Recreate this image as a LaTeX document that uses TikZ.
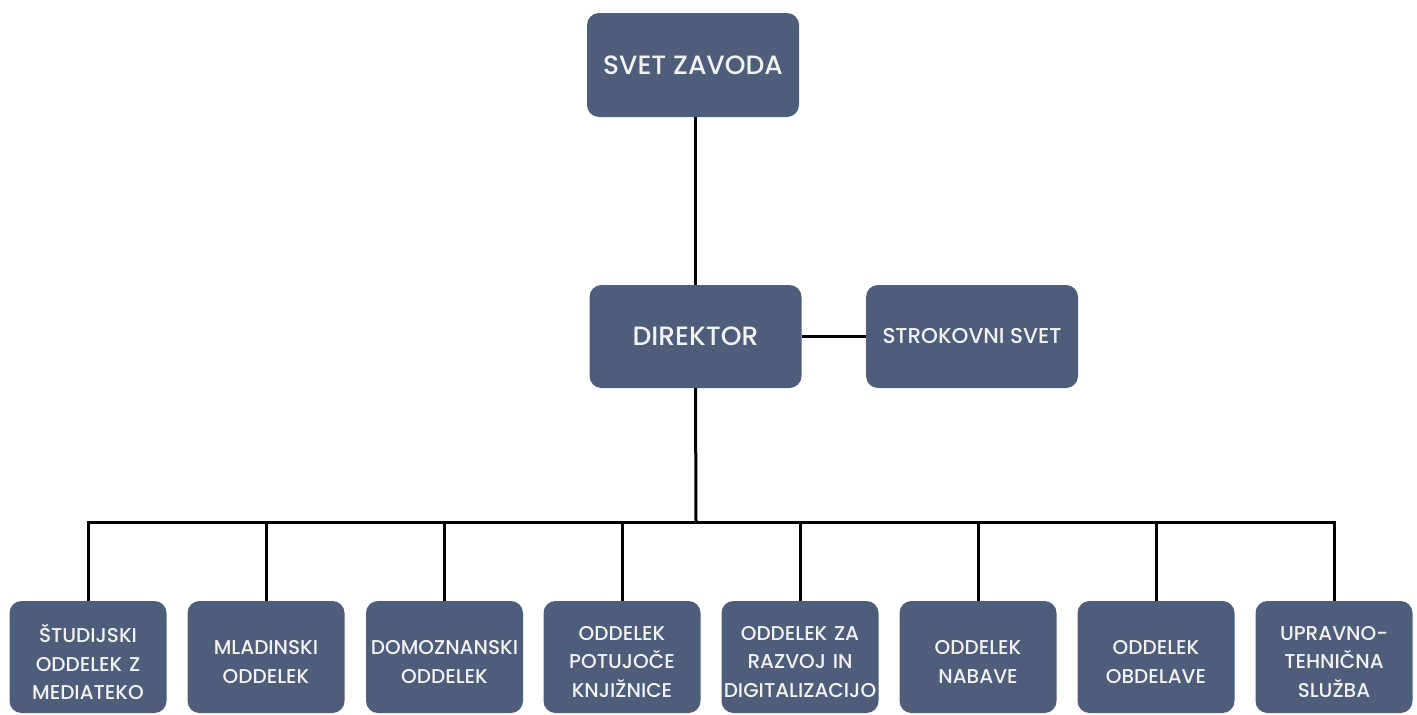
\documentclass[tikz,border=0pt]{standalone}
\usepackage{fontspec}
\setmainfont{Poppins}[UprightFont={* Medium}]
\definecolor{boxfill}{HTML}{4E5D7A}
\definecolor{boxtext}{HTML}{F2F2F2}
\begin{document}
\begin{tikzpicture}[x=1pt,y=-1pt,
  box/.style={rectangle,rounded corners=12pt,fill=boxfill,text=boxtext,align=center,inner sep=0pt},
  topbox/.style={box,minimum width=212pt,minimum height=104pt,font=\fontsize{26.5}{30}\selectfont},
  sidebox/.style={box,minimum width=212pt,minimum height=103pt,font=\fontsize{21.5}{24}\selectfont},
  unit/.style={box,minimum width=157pt,minimum height=112pt},
  unittext/.style={text=boxtext,align=center,inner sep=0pt,text width=157pt,font=\fontsize{20}{28.5}\selectfont},
  conn/.style={draw=black,line width=3pt}]
\useasboundingbox[fill=white] (0,0) rectangle (1417,715);
\node[topbox] (svet) at (693,65) {SVET ZAVODA};
\node[topbox,minimum height=103pt] (dir) at (695.5,336.5) {DIREKTOR};
\node[sidebox] (strok) at (972,336.5) {STROKOVNI SVET};
\foreach \i/\x/\t in {1/88/{ŠTUDIJSKI\\ODDELEK Z\\MEDIATEKO},
                      2/266/{MLADINSKI\\ODDELEK},
                      3/444.5/{DOMOZNANSKI\\ODDELEK},
                      4/622/{ODDELEK\\POTUJOČE\\KNJIŽNICE},
                      5/800/{ODDELEK ZA\\RAZVOJ IN\\DIGITALIZACIJO},
                      6/978/{ODDELEK\\NABAVE},
                      7/1156/{ODDELEK\\OBDELAVE},
                      8/1334/{UPRAVNO-\\TEHNIČNA\\SLUŽBA}} {
  \node[unit] (b\i) at (\x,657) {};
  \node[unittext] (b\i t) at (\x,662) {\t};
}
\coordinate (bus) at (696,522);
\draw[conn] (svet.south -| dir.north) -- (dir.north);
\draw[conn] (dir.east) -- (strok.west);
\draw[conn] (dir.south) -- (bus);
\foreach \i in {1,...,8} {\draw[conn] (b\i.north) |- (bus);}
\end{tikzpicture}
\end{document}
